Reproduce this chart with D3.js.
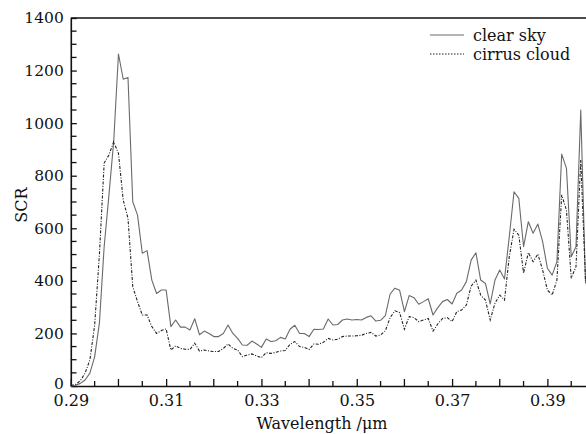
<!DOCTYPE html>
<html><head><meta charset="utf-8">
<script src="https://cdn.jsdelivr.net/npm/d3@7/dist/d3.min.js"></script>
</head>
<body style="margin:0"><svg id="c" width="586" height="434"></svg>
<script>
const wavelengths = [0.290,0.291,0.292,0.293,0.294,0.295,0.296,0.297,0.298,0.299,
0.300,0.301,0.302,0.303,0.304,0.305,0.306,0.307,0.308,0.309,
0.310,0.311,0.312,0.313,0.314,0.315,0.316,0.317,0.318,0.319,
0.320,0.321,0.322,0.323,0.324,0.325,0.326,0.327,0.328,0.329,
0.330,0.331,0.332,0.333,0.334,0.335,0.336,0.337,0.338,0.339,
0.340,0.341,0.342,0.343,0.344,0.345,0.346,0.347,0.348,0.349,
0.350,0.351,0.352,0.353,0.354,0.355,0.356,0.357,0.358,0.359,
0.360,0.361,0.362,0.363,0.364,0.365,0.366,0.367,0.368,0.369,
0.370,0.371,0.372,0.373,0.374,0.375,0.376,0.377,0.378,0.379,
0.380,0.381,0.382,0.383,0.384,0.385,0.386,0.387,0.388,0.389,
0.390,0.391,0.392,0.393,0.394,0.395,0.396,0.397,0.398];
const clearSky = [0,3,10,23,49,111,239,530,726,930,
1263,1167,1174,701,650,505,515,403,352,365,
365,226,251,224,224,213,256,195,209,200,
188,188,200,232,200,181,156,155,171,160,
147,179,169,172,185,179,216,231,200,200,
188,216,215,217,255,232,234,251,255,251,
253,251,261,267,247,250,268,350,372,364,
283,344,336,311,321,332,270,298,321,329,
312,353,365,397,479,507,403,390,312,403,
441,407,568,739,714,530,625,581,616,549,
448,422,473,882,828,492,530,1050,390];
const cirrusCloud = [2,6,20,49,99,230,500,848,879,929,
885,707,638,378,321,270,270,226,200,211,
217,137,153,143,140,139,163,133,137,133,
131,131,143,160,143,137,112,118,122,114,
108,127,124,128,133,135,159,169,150,147,
139,160,159,166,181,175,178,188,190,190,
191,193,200,204,190,194,210,260,286,279,
216,264,260,245,251,257,209,236,257,260,
245,283,289,308,380,403,346,327,251,315,
346,327,492,596,574,429,507,473,502,441,
365,346,403,727,669,410,454,860,400];
const seriesNames = ["clear sky","cirrus cloud"];
const xLabelTicks = [0.29,0.31,0.33,0.35,0.37,0.39];
const xMajorTicks = [0.30,0.32,0.34,0.36,0.38];
const xMinorTicks = [0.295,0.305,0.315,0.325,0.335,0.345,0.355,0.365,0.375,0.385,0.395];
const yLabelTicks = [0,200,400,600,800,1000,1200,1400];
const yMinorTicks = [50,100,150,250,300,350,450,500,550,650,700,750,850,900,950,1050,1100,1150,1250,1300,1350];

const FF = "DejaVu Serif";
const svg = d3.select("#c");
const x = d3.scaleLinear().domain([0.29, 0.3981]).range([70.8, 586]);
const y = d3.scaleLinear().domain([0, 1400]).range([386, 18]);

svg.append("line").attr("x1",70.8).attr("x2",586).attr("y1",y(1400)).attr("y2",y(1400))
  .attr("stroke","#111").attr("stroke-width",1.6);

const tickG = svg.append("g");
tickG.selectAll(".xmaj").data(xMajorTicks).join("line")
  .attr("x1",d=>x(d)).attr("x2",d=>x(d)).attr("y1",386).attr("y2",379)
  .attr("stroke","#111").attr("stroke-width",1.3);
tickG.selectAll(".xmin").data(xMinorTicks).join("line")
  .attr("x1",d=>x(d)).attr("x2",d=>x(d)).attr("y1",386).attr("y2",381)
  .attr("stroke","#111").attr("stroke-width",1.3);
tickG.selectAll(".ymin").data(yMinorTicks).join("line")
  .attr("x1",70.8).attr("x2",76.5).attr("y1",d=>y(d)).attr("y2",d=>y(d))
  .attr("stroke","#111").attr("stroke-width",1.3);

const xAxis = d3.axisBottom(x).tickValues(xLabelTicks).tickSizeInner(-7).tickSizeOuter(0)
  .tickPadding(9).tickFormat(d3.format(".2f"));
const gx = svg.append("g").attr("transform","translate(0,386)").call(xAxis)
  .attr("font-family", FF).attr("font-size", 16);
gx.select(".domain").attr("stroke","#111").attr("stroke-width",1.6);
gx.selectAll(".tick line").attr("stroke","#111").attr("stroke-width",1.3);
gx.selectAll(".tick text").attr("fill","#111");

const yAxis = d3.axisLeft(y).tickValues(yLabelTicks).tickSizeInner(-6).tickSizeOuter(0)
  .tickPadding(7).tickFormat(d3.format("d"));
const gy = svg.append("g").attr("transform","translate(70.8,0)").call(yAxis)
  .attr("font-family", FF).attr("font-size", 15.5);
gy.select(".domain").attr("stroke","#111").attr("stroke-width",1.6);
gy.selectAll(".tick line").attr("stroke","#111").attr("stroke-width",1.3);
gy.selectAll(".tick text").attr("fill","#111");
gy.selectAll(".tick text").filter(d=>d===0).attr("dy","0.15em");

const lineGen = vals => d3.line().x((d,i)=>x(wavelengths[i])).y(d=>y(d))(vals);
svg.append("path").attr("d", lineGen(clearSky)).attr("fill","none")
  .attr("stroke","#6a6a6a").attr("stroke-width",1.1).attr("stroke-linejoin","round");
svg.append("path").attr("d", lineGen(cirrusCloud)).attr("fill","none")
  .attr("stroke","#222").attr("stroke-width",1.1).attr("stroke-dasharray","3,1.5,1,1.5");

const leg = svg.append("g").attr("font-family", FF).attr("font-size", 16);
leg.append("line").attr("x1",430).attr("x2",464).attr("y1",35).attr("y2",35)
  .attr("stroke","#6a6a6a").attr("stroke-width",1);
leg.append("line").attr("x1",430).attr("x2",464).attr("y1",54).attr("y2",54)
  .attr("stroke","#222").attr("stroke-width",1).attr("stroke-dasharray","1.5,1.5");
leg.selectAll("text").data(seriesNames).join("text")
  .attr("x",473).attr("y",(d,i)=>41+i*19).attr("fill","#111").text(d=>d);

const titles = svg.append("g").attr("font-family", FF).attr("font-size", 16).attr("fill","#111");
titles.append("text").attr("x",322).attr("y",429).attr("text-anchor","middle").text("Wavelength /μm");
titles.append("text").attr("transform","translate(27,205) rotate(-90)").attr("text-anchor","middle").text("SCR");
</script></body></html>
